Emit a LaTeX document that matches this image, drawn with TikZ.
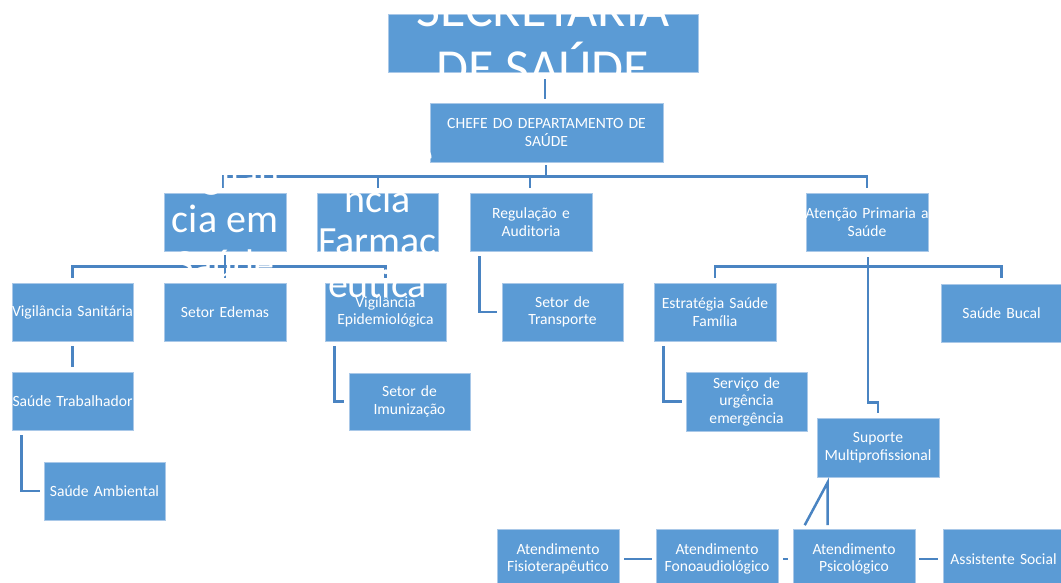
\documentclass[tikz,border=0pt]{standalone}
\usepackage{fontspec}
\setmainfont{Carlito}
\usetikzlibrary{calc}
\definecolor{boxblue}{HTML}{5B9BD5}
\definecolor{boxedge}{HTML}{A9C8E8}
\definecolor{linkblue}{HTML}{4A84C2}
\begin{document}
\begin{tikzpicture}[x=1pt,y=-1pt,
  bx/.style 2 args={rectangle, fill=boxblue, draw=boxedge, line width=0.6pt,
    inner sep=0pt, minimum width=#1, minimum height=#2, text width=#1,
    align=center, text=white, font=\fontsize{15.6}{17.5}\selectfont},
  link/.style={draw=linkblue, line width=2.5pt},
  bigl2/.style={text=white, inner sep=0pt, anchor=base, font=\fontsize{40}{44}\selectfont},
  bigsec/.style={text=white, inner sep=0pt, anchor=base, font=\fontsize{52}{58}\selectfont}]
\useasboundingbox (0,0) rectangle (1061,583);
% boxes
\node[bx={310pt}{58pt}] (sec) at (543,43) {};
\node[bx={233pt}{59pt}] (chefe) at (546.5,132.5) {CHEFE DO DEPARTAMENTO DE\\SAÚDE};
\node[bx={122pt}{58pt}] (vsaude) at (225,222) {};
\node[bx={121pt}{58pt}] (farm) at (377.5,222) {};
\node[bx={122pt}{58pt}] (reg) at (531,222) {Regulação e\\Auditoria};
\node[bx={122pt}{58pt}] (aten) at (867,222) {\makebox[\linewidth]{Atenção Primaria a}\\Saúde};
\node[bx={121pt}{58pt}] (vsan) at (72.5,312) {\makebox[\linewidth]{Vigilância Sanitária}};
\node[bx={122pt}{58pt}] (edemas) at (225,312) {Setor Edemas};
\node[bx={121pt}{58pt}] (vepi) at (385.5,312) {Vigilância\\Epidemiológica};
\node[bx={121pt}{58pt}] (transp) at (562.5,312) {Setor de\\Transporte};
\node[bx={122pt}{58pt}] (esf) at (715,312) {Estratégia Saúde\\Família};
\node[bx={121pt}{58pt}] (bucal) at (1001.5,313) {Saúde Bucal};
\node[bx={121pt}{58pt}] (strab) at (72.5,401) {\makebox[\linewidth]{Saúde Trabalhador}};
\node[bx={121pt}{57pt}] (imun) at (409.5,401.5) {Setor de\\Imunização};
\node[bx={121pt}{59pt}] (sue) at (746.5,401.5) {Serviço de\\urgência\\emergência};
\node[bx={122pt}{59pt}] (suporte) at (878,447.5) {Suporte\\Multiprofissional};
\node[bx={121pt}{58pt}] (samb) at (104.5,491) {Saúde Ambiental};
\node[bx={122pt}{59pt}] (fisio) at (558,559) {Atendimento\\Fisioterapêutico};
\node[bx={122pt}{59pt}] (fono) at (717,559) {Atendimento\\Fonoaudiológico};
\node[bx={122pt}{59pt}] (psico) at (854,559) {Atendimento\\Psicológico};
\node[bx={121pt}{59pt}] (assist) at (1003.5,559) {Assistente Social};
% connectors
\draw[link] ($(sec.south)+(2,7)$) -- ($(chefe.north)+(-1.5,-4)$);
\coordinate (hub) at ($(chefe.south)+(-0.5,15)$);
\draw[link] ($(chefe.south)+(-0.5,3)$) -- (hub);
\draw[link] ($(vsaude.north)+(-2,-5)$) |- ($(aten.north)+(0,-16)$) -- ($(aten.north)+(0,-5)$);
\draw[link] ($(farm.north)+(0.5,-5)$) -- ($(farm.north)+(0.5,-16)$);
\draw[link] ($(reg.north)+(-1,-5)$) -- ($(reg.north)+(-1,-16)$);
\draw[link] ($(vsaude.south)+(0,4)$) -- ($(edemas.north)+(0,-5)$);
\draw[link] ($(vsan.north)+(0,-5)$) |- ($(vepi.north)+(0,-16)$) -- ($(vepi.north)+(0,-5)$);
\draw[link] ($(vsan.south)+(0,5)$) -- ($(strab.north)+(0,-5)$);
\draw[link] ($(strab.south west)+(10,5)$) |- ($(samb.west)+(-4,0)$);
\draw[link] ($(vepi.south west)+(10,5)$) |- ($(imun.west)+(-5,0)$);
\draw[link] ($(reg.south west)+(10,5)$) |- ($(transp.west)+(-5,0)$);
\draw[link] ($(aten.south)+(1,6)$) |- ($(suporte.north)+(0,-15)$) -- ($(suporte.north)+(0,-5)$);
\draw[link] ($(esf.north)+(0,-5)$) |- ($(bucal.north)+(0,-17)$) -- ($(bucal.north)+(0,-6)$);
\draw[link] ($(esf.south west)+(10,5)$) |- ($(sue.west)+(-4,0)$);
\draw[link] ($(psico.north west)+(12,-4)$) -- ($(suporte.south west)+(11,5)$) -- ($(psico.north west)+(35,-4)$);
\draw[link] ($(fisio.east)+(5,0)$) -- ($(fono.west)+(-4,0)$);
\draw[link] ($(fono.east)+(5,0)$) -- ($(psico.west)+(-5,0)$);
\draw[link] ($(psico.east)+(4,0)$) -- ($(assist.west)+(-5,0)$);
% overflowing large texts
\node[bigsec] (secA) at (543,27) {SECRETARIA};
\node[bigsec] (secB) at (543,86) {DE SAÚDE};
\node[bigl2] (vsA) at (225,189) {Vigilân};
\node[bigl2] (vsB) at (225,233) {cia em};
\node[bigl2] (vsC) at (225,277) {Saúde};
\node[bigl2] (faA) at (377.5,169) {Assistê};
\node[bigl2] (faB) at (377.5,212) {ncia};
\node[bigl2] (faC) at (377.5,254) {Farmac};
\node[bigl2] (faD) at (377.5,297) {êutica};
\end{tikzpicture}
\end{document}
